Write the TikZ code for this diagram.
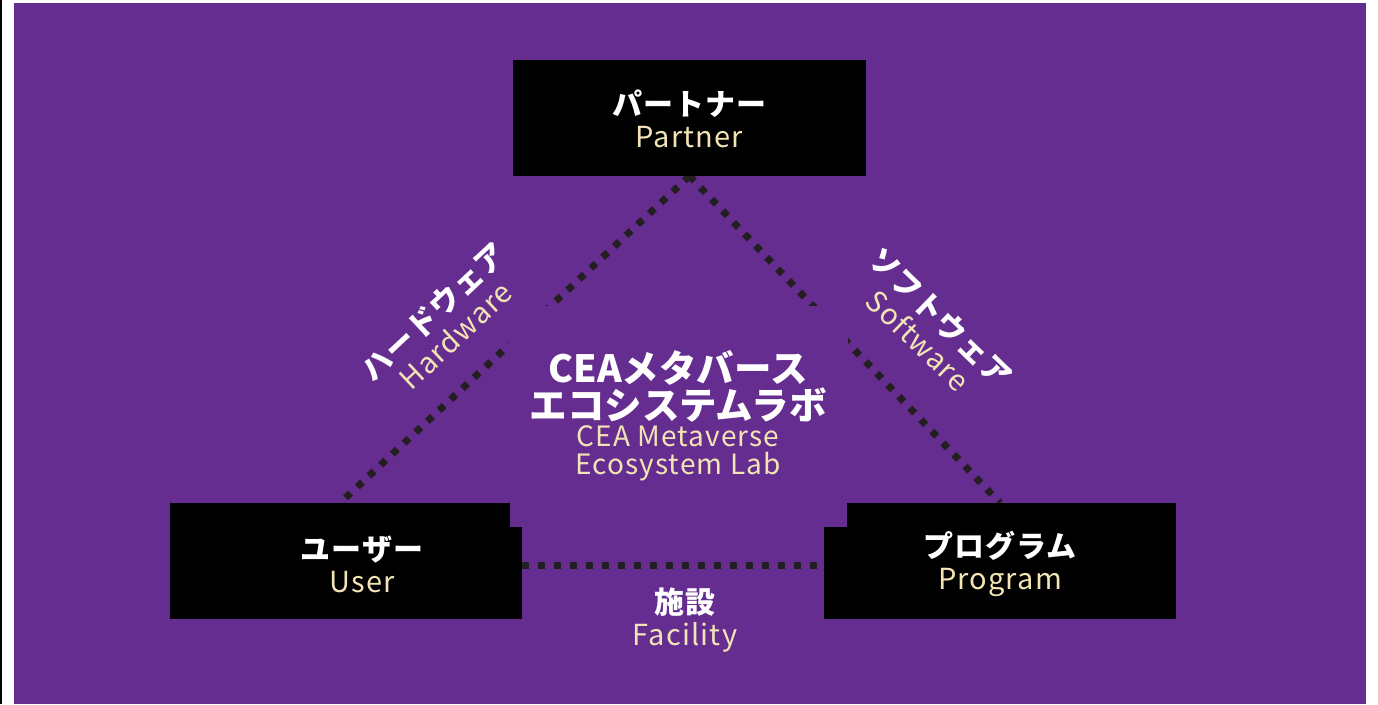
\documentclass[tikz,border=0pt]{standalone}
\usepackage{fontspec}
\setmainfont{Noto Sans CJK JP}
\newfontfamily\jpfont[LetterSpace=3]{Noto Sans CJK JP}
\newfontfamily\jphub{Noto Sans CJK JP}
\newfontfamily\enfont[LetterSpace=4]{Noto Sans CJK JP}
\usetikzlibrary{backgrounds,calc}
\definecolor{bgpurple}{HTML}{662D91}
\definecolor{cream}{HTML}{F2E4B4}
\definecolor{dotc}{HTML}{231F20}
\newcommand\twoline[2]{{\jpfont\bfseries\fontsize{30}{32}\selectfont\color{white}#1}\\{\enfont\fontsize{29}{32}\selectfont\color{cream}#2}}
\begin{document}
\begin{tikzpicture}[x=1pt,y=-1pt,
  blk/.style={fill=black,draw=none,inner sep=0pt,outer sep=0pt},
  conn/.style={draw=dotc,line width=7pt,dash pattern=on 7pt off 9pt},
  lbl/.style={align=center,inner sep=0pt,font=\fontsize{29}{32}\selectfont}]
\useasboundingbox (0,0) rectangle (1378,704);
% boxes
\node[blk,minimum width=353pt,minimum height=116pt] (partner) at (689.5,118) {};
\node[blk,minimum width=340pt,minimum height=116pt] (usertop) at (340,561) {};
\node[blk,minimum width=352pt,minimum height=92pt] (user) at (346,573) {};
\node[blk,minimum width=329pt,minimum height=116pt] (progtop) at (1011.5,561) {};
\node[blk,minimum width=352pt,minimum height=92pt] (program) at (1000,573) {};
% centre cover and text
\node[fill=bgpurple,draw=none,inner sep=0pt,minimum width=340pt,minimum height=176pt] (cover) at (678,394) {};
\node[align=center,inner sep=0pt,font=\fontsize{28}{28}\selectfont] (hub) at (678,416)
  {{\jphub\bfseries\fontsize{37.5}{40}\selectfont\color{white}CEAメタバース}\\[1pt]
   {\jphub\bfseries\fontsize{37.5}{40}\selectfont\color{white}エコシステムラボ}\\[-1pt]
   {\enfont\color{cream}CEA Metaverse}\\
   {\enfont\color{cream}Ecosystem Lab}};
% labels
\node[lbl] (partnerlbl) at (689.5,119) {\twoline{パートナー}{Partner}};
\node[lbl] (userlbl) at (362,564) {\twoline{ユーザー}{User}};
\node[lbl] (proglbl) at (1000,564) {\twoline{プログラム}{Program}};
\node[lbl,rotate=43] (hw) at (444,323) {\twoline{ハードウェア}{Hardware}};
\node[lbl,rotate=-44] (sw) at (930,328) {\twoline{ソフトウェア}{Software}};
\node[lbl] (fac) at (685,620) {\twoline{施設}{Facility}};
\begin{scope}[on background layer]
  \fill[bgpurple] (14,3) rectangle (1366,704);
  \draw[black,line width=1.2pt] (1,0) -- (1,704);
  \draw[conn] (partner.south) -- (usertop.north);
  \draw[conn] (partner.south) -- (program.north |- progtop.north);
  \draw[conn] ([yshift=8pt]user.east) -- ([yshift=8pt]program.west);
\end{scope}
\end{tikzpicture}
\end{document}
